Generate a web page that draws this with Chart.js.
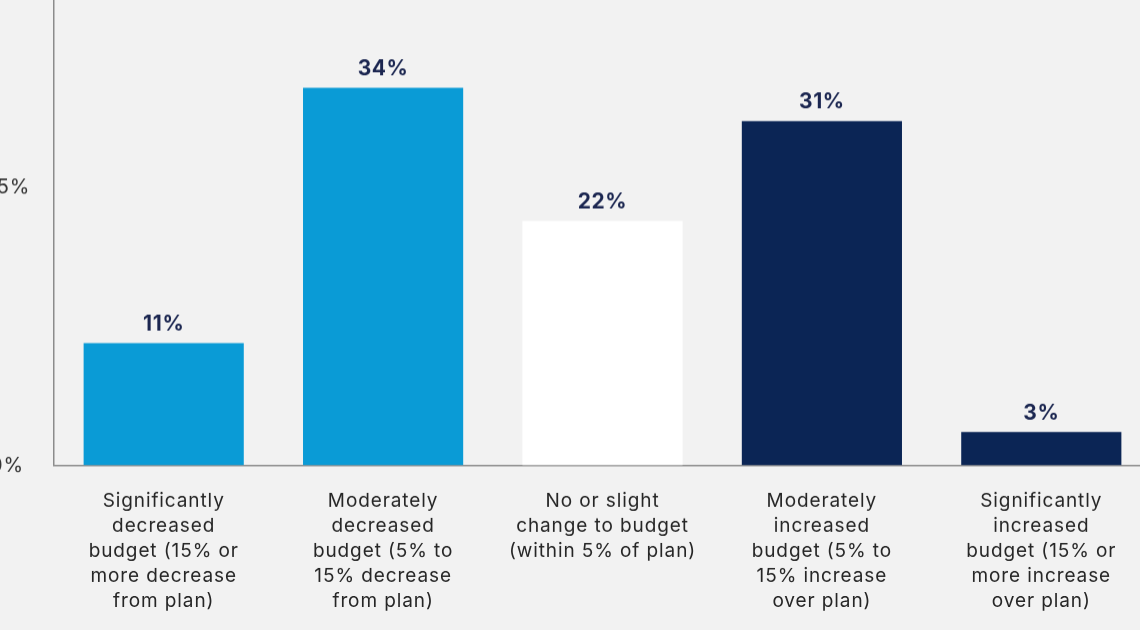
<!DOCTYPE html>
<html>
<head>
<meta charset="utf-8">
<script src="https://cdn.jsdelivr.net/npm/chart.js@4"></script>
<style>
  html, body { margin: 0; padding: 0; width: 1140px; height: 630px; overflow: hidden; background: #f2f2f2; }
  #wrap { position: absolute; left: -36px; top: -127px; width: 1187px; height: 761.5px; }
</style>
</head>
<body>
<div id="wrap"><canvas id="c"></canvas></div>
<script>
const categories = [
  ['Significantly', 'decreased', 'budget (15% or', 'more decrease', 'from plan)'],
  ['Moderately', 'decreased', 'budget (5% to', '15% decrease', 'from plan)'],
  ['No or slight', 'change to budget', '(within 5% of plan)'],
  ['Moderately', 'increased', 'budget (5% to', '15% increase', 'over plan)'],
  ['Significantly', 'increased', 'budget (15% or', 'more increase', 'over plan)']
];
const values = [11, 34, 22, 31, 3];
const yTickValues = [0, 25];

const barColors = ['#0a9bd6', '#0a9bd6', '#ffffff', '#0b2555', '#0b2555'];
const FONT = 'Inter, "Noto Sans", sans-serif';

const spacing = {
  id: 'spacing',
  beforeDraw(chart) { chart.ctx.letterSpacing = '0.9px'; }
};

const dataLabels = {
  id: 'dataLabels',
  afterDatasetsDraw(chart) {
    const ctx = chart.ctx;
    const meta = chart.getDatasetMeta(0);
    ctx.save();
    ctx.letterSpacing = '0.6px';
    ctx.font = 'bold 21px ' + FONT;
    ctx.fillStyle = '#1b2650';
    ctx.textAlign = 'center';
    ctx.textBaseline = 'alphabetic';
    meta.data.forEach((bar, i) => {
      ctx.fillText(values[i] + '%', bar.x, bar.y - 12.5);
    });
    ctx.restore();
  }
};

new Chart(document.getElementById('c'), {
  type: 'bar',
  data: {
    labels: categories,
    datasets: [{
      data: values,
      backgroundColor: barColors,
      borderWidth: 0,
      categoryPercentage: 1,
      barPercentage: 0.73
    }]
  },
  options: {
    responsive: true,
    maintainAspectRatio: false,
    animation: false,
    layout: { padding: 0 },
    plugins: { legend: { display: false }, tooltip: { enabled: false } },
    scales: {
      x: {
        grid: { display: false, drawTicks: false },
        border: { display: true, color: '#8c8c8c', width: 1.5 },
        ticks: {
          color: '#262626',
          font: { family: FONT, size: 19, lineHeight: 25 / 19 },
          padding: 23,
          maxRotation: 0,
          autoSkip: false
        },
        afterFit(s) { s.height = 170; }
      },
      y: {
        min: 0,
        max: 50,
        grid: { display: false, drawTicks: false },
        border: { display: true, color: '#8c8c8c', width: 1.5 },
        ticks: {
          color: '#333333',
          font: { family: FONT, size: 20 },
          padding: 25,
          crossAlign: 'center',
          callback: v => v + '%'
        },
        afterBuildTicks(s) { s.ticks = yTickValues.map(v => ({ value: v })); },
        afterFit(s) { s.width = 90; }
      }
    }
  },
  plugins: [spacing, dataLabels]
});
</script>
</body>
</html>
